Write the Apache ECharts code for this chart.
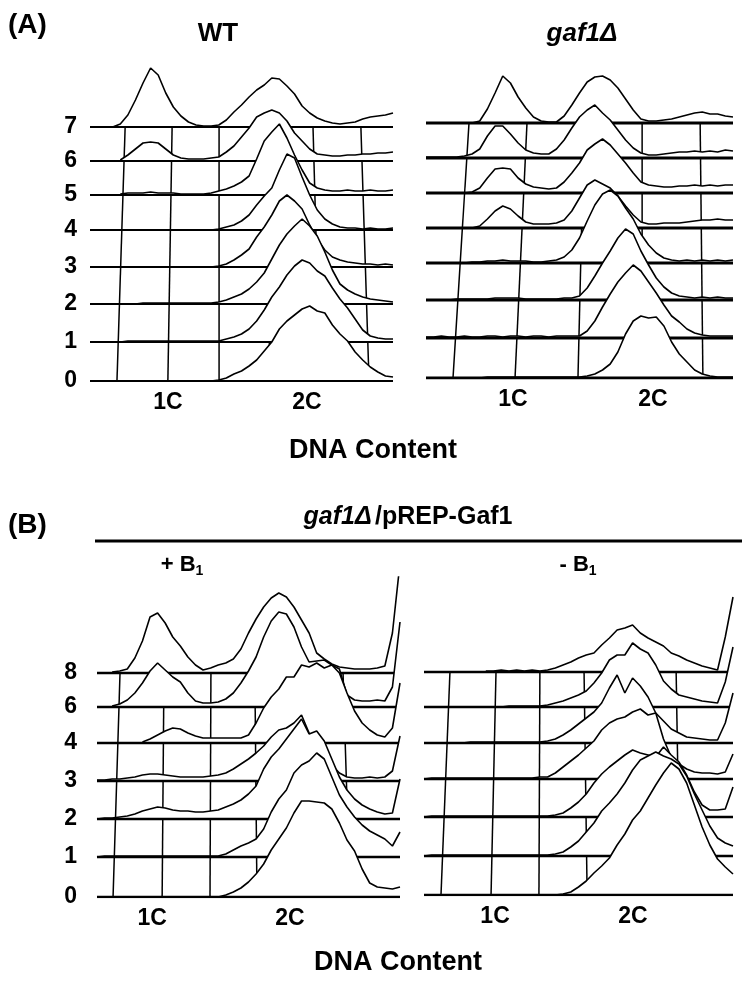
<!DOCTYPE html>
<html>
<head>
<meta charset="utf-8">
<script src="https://cdn.jsdelivr.net/npm/echarts@6/dist/echarts.min.js"></script>
<style>
  html, body { margin: 0; padding: 0; background: #fff; }
  #chart { width: 742px; height: 982px; }
</style>
</head>
<body>
<div id="chart"></div>
<script>
// DNA content channel, sampled every 2.5 units (0-100)
const channels = [];
for (let i = 0; i <= 40; i++) channels.push(i * 2.5);

// ---------- (A) WT : height of each histogram above its own baseline ----------
const wtLabels = ['0', '1', '2', '3', '4', '5', '6', '7'];
const wtBase = [0, 39, 77, 114, 151, 186, 220, 254];
const wt7 = [null, null, null, 0, 3, 12, 27, 44, 59, 52, 34, 20, 11, 5, 2, 1, 1, 2, 7, 15, 22, 30, 37, 42, 49, 48, 41, 33, 21, 14, 9, 6, 4, 3, 4, 5, 8, 10, 11, 12, 14];
const wt6 = [null, null, null, null, 1, 6, 12, 18, 19, 18, 12, 6, 3, 2, 2, 2, 3, 4, 9, 15, 24, 33, 44, 48, 51, 48, 40, 28, 20, 12, 7, 6, 5, 5, 6, 6, 7, 7, 8, 8, 9];
const wt5 = [null, null, null, null, 1, 2, 2, 2, 3, 2, 2, 2, 1, 1, 1, 1, 2, 4, 6, 9, 13, 19, 36, 54, 63, 71, 57, 40, 25, 12, 7, 5, 4, 4, 5, 4, 4, 5, 4, 4, 5];
const wt4 = [0, 0, 0, 0, 0, 0, 0, 0, 0, 0, 0, 0, 0, 0, 0, 0, 0, 1, 3, 5, 9, 15, 25, 34, 42, 60, 76, 72, 53, 35, 20, 11, 6, 3, 2, 2, 1, 2, 1, 1, 2];
const wt3 = [0, 0, 0, 0, 0, 0, 0, 0, 0, 0, 0, 0, 0, 0, 0, 0, 0, 1, 3, 7, 12, 18, 30, 40, 52, 66, 72, 66, 58, 42, 28, 17, 10, 7, 5, 4, 3, 3, 2, 3, 2];
const wt2 = [0, 0, 0, 0, 0, 0, 0, 1, 1, 1, 1, 1, 1, 1, 1, 1, 1, 2, 4, 7, 10, 15, 22, 31, 45, 59, 70, 78, 85, 78, 68, 52, 34, 20, 14, 10, 7, 5, 4, 3, 2];
const wt1 = [0, 0, 0, 0, 0, 1, 1, 1, 1, 1, 1, 1, 1, 1, 1, 1, 1, 1, 3, 5, 8, 13, 21, 32, 45, 55, 67, 76, 82, 79, 71, 66, 54, 43, 34, 23, 12, 6, 4, 3, 3];
const wt0 = [0, 0, 0, 0, 0, 0, 0, 0, 0, 0, 0, 0, 0, 0, 0, 0, 0, 1, 3, 7, 10, 15, 21, 30, 39, 52, 60, 66, 72, 75, 70, 68, 56, 47, 40, 29, 21, 14, 9, 5, 4];
const wtGridBottom = [8.9, 25.7, 42.6, 59.4, 75.9, 92.1];
const wtGridTop = [11.6, 27.1, 42.6, 58.1, 73.6, 89.4];
const wtTicks = [25.7, 71.6];

// ---------- (A) gaf1Δ ----------
const gafLabels = ['0', '1', '2', '3', '4', '5', '6', '7'];
const gafBase = [0, 40, 78, 115, 150, 185, 220, 255];
const gaf7 = [null, null, null, null, null, null, 0, 2, 14, 30, 47, 40, 26, 15, 6, 2, 1, 1, 7, 18, 30, 41, 46, 47, 43, 35, 24, 13, 4, 2, 2, 3, 4, 6, 8, 10, 11, 9, 9, 7, 6];
const gaf6 = [1, 1, 1, 1, 1, 2, 4, 9, 22, 32, 32, 24, 15, 8, 5, 4, 4, 9, 18, 30, 41, 48, 53, 45, 38, 28, 18, 10, 5, 3, 3, 4, 5, 6, 6, 7, 6, 7, 6, 8, 7];
const gaf5 = [null, null, null, null, null, 0, 1, 5, 15, 24, 25, 24, 15, 9, 6, 5, 4, 5, 11, 20, 30, 43, 49, 54, 48, 39, 30, 20, 11, 8, 7, 6, 6, 7, 7, 8, 7, 8, 7, 8, 8];
const gaf4 = [null, null, null, null, null, null, 0, 2, 9, 17, 22, 19, 12, 6, 4, 4, 4, 5, 8, 17, 30, 43, 48, 44, 40, 32, 22, 13, 6, 4, 4, 5, 5, 5, 6, 7, 8, 8, 9, 8, 8];
const gaf3 = [null, null, null, null, null, 0, 1, 1, 2, 2, 3, 2, 2, 2, 1, 1, 2, 3, 6, 13, 25, 42, 58, 69, 73, 67, 55, 44, 29, 18, 10, 5, 3, 2, 3, 2, 3, 2, 3, 2, 3];
const gaf2 = [null, null, null, 0, 1, 1, 1, 1, 1, 2, 2, 2, 2, 1, 1, 1, 1, 1, 2, 2, 4, 12, 24, 37, 49, 62, 71, 66, 49, 35, 22, 13, 7, 4, 3, 2, 3, 2, 3, 2, 2];
const gaf1 = [1, 1, 2, 1, 1, 2, 1, 1, 2, 2, 1, 2, 2, 1, 2, 2, 1, 2, 2, 2, 2, 7, 17, 31, 44, 56, 65, 73, 67, 56, 45, 33, 22, 16, 9, 5, 3, 2, 2, 2, 2];
const gaf0 = [0, 0, 0, 0, 0, 0, 0, 0, 1, 1, 1, 1, 1, 1, 1, 1, 1, 1, 1, 1, 1, 2, 4, 8, 14, 26, 44, 57, 62, 60, 61, 52, 36, 24, 16, 8, 4, 2, 1, 1, 1];
const gafGridBottom = [8.8, 29.0, 49.5, 70.4, 90.2];
const gafGridTop = [14.0, 32.9, 51.5, 70.4, 89.3];
const gafTicks = [28.3, 73.9];

// ---------- (B) gaf1Δ/pREP-Gaf1  + B1 ----------
const plusLabels = ['0', '1', '2', '3', '4', '6', '8'];
const plusBase = [0, 40, 78, 116, 154, 190, 224];
const plus8 = [null, null, 1, 2, 4, 15, 32, 56, 60, 50, 36, 27, 16, 8, 3, 5, 8, 10, 14, 24, 40, 54, 66, 75, 80, 76, 66, 53, 40, 20, 14, 9, 6, 5, 4, 4, 4, 5, 7, 40, 110];
const plus6 = [null, null, 1, 3, 7, 14, 24, 36, 44, 37, 30, 25, 14, 6, 4, 4, 5, 8, 14, 24, 36, 50, 70, 86, 95, 93, 80, 60, 45, 46, 47, 42, 38, 12, 7, 6, 6, 7, 6, 20, 85];
const plus4 = [null, null, null, null, null, null, 1, 4, 8, 12, 15, 14, 10, 7, 5, 5, 5, 5, 5, 5, 8, 20, 35, 46, 54, 66, 66, 78, 76, 80, 75, 78, 70, 50, 32, 20, 13, 8, 6, 15, 60];
const plus3 = [1, 1, 2, 2, 3, 4, 6, 7, 7, 6, 5, 4, 4, 4, 4, 5, 6, 8, 12, 17, 22, 28, 35, 44, 51, 53, 58, 66, 48, 30, 24, 16, 8, 4, 3, 3, 4, 3, 4, 10, 45];
const plus2 = [0, 1, 1, 2, 3, 5, 8, 10, 12, 11, 9, 8, 8, 7, 7, 8, 9, 12, 15, 19, 25, 33, 50, 62, 70, 80, 90, 100, 85, 88, 78, 60, 42, 29, 20, 14, 10, 7, 5, 6, 40];
const plus1 = [0, 1, 1, 1, 1, 1, 1, 1, 1, 1, 1, 1, 1, 1, 1, 1, 1, 3, 7, 11, 14, 18, 28, 45, 58, 67, 84, 92, 96, 104, 98, 80, 62, 50, 40, 32, 26, 22, 18, 11, 25];
const plus0 = [0, 0, 0, 0, 0, 0, 0, 0, 0, 0, 0, 0, 0, 0, 0, 0, 0, 2, 5, 9, 15, 23, 33, 47, 58, 69, 84, 96, 96, 95, 94, 88, 74, 57, 46, 28, 14, 10, 9, 8, 10];
const plusGridBottom = [5.3, 21.5, 37.3, 52.8, 68.0, 83.5];
const plusGridTop = [7.6, 22.1, 37.6, 52.1, 66.7, 81.2];
const plusTicks = [18.2, 63.7];

// ---------- (B) - B1 ----------
const minusLabels = ['0', '1', '2', '3', '4', '6', '8'];
const minusBase = [0, 39, 78, 116, 152, 188, 223];
const minus8 = [null, null, null, null, null, null, null, null, 1, 1, 2, 1, 2, 1, 2, 1, 2, 4, 7, 10, 14, 17, 19, 27, 34, 42, 44, 47, 39, 34, 30, 26, 19, 16, 12, 9, 6, 4, 2, 35, 75];
const minus6 = [null, null, null, null, null, null, null, null, null, null, 0, 1, 1, 1, 1, 1, 2, 4, 6, 9, 12, 16, 24, 34, 47, 52, 52, 64, 58, 54, 42, 26, 18, 12, 10, 8, 6, 5, 4, 25, 60];
const minus4 = [null, null, null, null, null, 0, 1, 1, 1, 1, 1, 1, 1, 1, 1, 1, 2, 4, 8, 13, 19, 25, 31, 40, 55, 68, 50, 65, 57, 46, 30, 22, 14, 10, 6, 5, 4, 3, 3, 20, 50];
const minus3 = [0, 1, 1, 1, 1, 1, 1, 1, 1, 1, 1, 1, 1, 1, 1, 2, 2, 6, 12, 18, 24, 31, 38, 49, 56, 60, 62, 67, 70, 64, 66, 40, 22, 15, 10, 7, 6, 6, 5, 7, 25];
const minus2 = [0, 1, 1, 1, 1, 1, 1, 1, 1, 1, 1, 1, 1, 1, 1, 1, 1, 2, 4, 9, 15, 23, 34, 43, 50, 56, 62, 67, 64, 62, 60, 70, 62, 55, 42, 25, 12, 7, 7, 8, 30];
const minus1 = [0, 1, 1, 1, 1, 1, 1, 1, 1, 1, 1, 1, 1, 1, 1, 1, 1, 2, 4, 9, 15, 24, 33, 45, 53, 62, 73, 86, 96, 100, 104, 100, 97, 92, 80, 62, 46, 30, 18, 13, 10];
const minus0 = [0, 0, 0, 0, 0, 0, 0, 0, 0, 0, 0, 0, 0, 0, 0, 0, 0, 0, 1, 3, 8, 14, 22, 29, 37, 50, 61, 75, 84, 97, 110, 122, 132, 126, 112, 90, 68, 50, 36, 28, 21];
const minusGridBottom = [5.5, 21.7, 37.2, 52.8, 67.6, 82.8];
const minusGridTop = [8.4, 23.3, 37.5, 51.8, 66.7, 81.6];
const minusTicks = [23.0, 67.6];

const tickLabels = ['1C', '2C'];

const FONT = '"Liberation Sans", Arial, sans-serif';

const panels = [
  { rect: { left: 90, top: 51, width: 303, height: 330 }, max: 330, labels: wtLabels, base: wtBase,
    rows: [wt0, wt1, wt2, wt3, wt4, wt5, wt6, wt7], gb: wtGridBottom, gt: wtGridTop, ticks: wtTicks,
    showY: true, yMargin: 13, baseWidth: 2 },
  { rect: { left: 426, top: 48, width: 307, height: 330 }, max: 330, labels: gafLabels, base: gafBase,
    rows: [gaf0, gaf1, gaf2, gaf3, gaf4, gaf5, gaf6, gaf7], gb: gafGridBottom, gt: gafGridTop, ticks: gafTicks,
    showY: false, yMargin: 13, baseWidth: 3 },
  { rect: { left: 97, top: 577, width: 303, height: 320 }, max: 320, labels: plusLabels, base: plusBase,
    rows: [plus0, plus1, plus2, plus3, plus4, plus6, plus8], gb: plusGridBottom, gt: plusGridTop, ticks: plusTicks,
    showY: true, yMargin: 20, baseWidth: 2.5 },
  { rect: { left: 424, top: 575, width: 309, height: 320 }, max: 320, labels: minusLabels, base: minusBase,
    rows: [minus0, minus1, minus2, minus3, minus4, minus6, minus8], gb: minusGridBottom, gt: minusGridTop, ticks: minusTicks,
    showY: false, yMargin: 13, baseWidth: 2.5 }
];

const grid = [], xAxis = [], yAxis = [], series = [];

panels.forEach((p, pi) => {
  grid.push(Object.assign({}, p.rect));
  xAxis.push({
    gridIndex: pi, type: 'value', min: 0, max: 100,
    axisLine: { show: false }, axisTick: { show: false }, splitLine: { show: false },
    axisLabel: {
      customValues: p.ticks,
      formatter: (v) => tickLabels[p.ticks.indexOf(v)] || '',
      margin: 10, color: '#000', fontSize: 23, fontWeight: 'bold', fontFamily: FONT
    }
  });
  yAxis.push({
    gridIndex: pi, type: 'value', min: 0, max: p.max,
    axisLine: { show: false }, axisTick: { show: false }, splitLine: { show: false },
    axisLabel: {
      show: p.showY,
      customValues: p.base,
      formatter: (v) => p.labels[p.base.indexOf(v)] || '',
      margin: p.yMargin, color: '#000', fontSize: 23, fontWeight: 'bold', fontFamily: FONT
    }
  });

  const n = p.rows.length;
  const topOff = p.base[n - 1];

  // perspective floor lines
  p.gb.forEach((xb, j) => {
    series.push({
      type: 'line', xAxisIndex: pi, yAxisIndex: pi, z: 1, silent: true,
      symbol: 'none', animation: false,
      lineStyle: { color: '#000', width: 1.5 },
      data: [[xb, 0], [p.gt[j], topOff]]
    });
  });

  // histograms, back (top) to front (bottom); white fill hides what is behind
  p.rows.forEach((h, i) => {
    const off = p.base[i];
    const rowZ = 10 + (n - i) * 3;
    const pts = [];
    h.forEach((v, k) => { if (v !== null) pts.push([channels[k], off + v]); });
    series.push({
      type: 'line', xAxisIndex: pi, yAxisIndex: pi, z: rowZ, silent: true,
      symbol: 'none', animation: false,
      lineStyle: { color: '#000', width: 1.6 },
      areaStyle: { color: '#fff', opacity: 1, origin: off },
      data: pts
    });
    series.push({
      type: 'line', xAxisIndex: pi, yAxisIndex: pi, z: rowZ + 1, silent: true,
      symbol: 'none', animation: false,
      lineStyle: { color: '#000', width: p.baseWidth },
      data: [[0, off], [100, off]]
    });
  });
});

const txt = (text, x, y, size, extra) => ({
  type: 'text', x, y, silent: true,
  style: Object.assign({
    text, fill: '#000', font: 'bold ' + size + 'px ' + FONT,
    align: 'center', verticalAlign: 'middle'
  }, extra || {})
});

const subRich = {
  b: { fontFamily: FONT, fontSize: 22, fontWeight: 'bold', lineHeight: 26 },
  s: { fontFamily: FONT, fontSize: 14, fontWeight: 'bold', verticalAlign: 'bottom', padding: [10, 0, 0, 0] }
};

const graphic = [
  txt('(A)', 8, 25, 28, { align: 'left' }),
  txt('WT', 218, 34, 26),
  txt('gaf1Δ', 582, 34, 26, { font: 'italic bold 26px ' + FONT }),
  txt('DNA Content', 373, 451, 27),
  txt('(B)', 8, 525, 28, { align: 'left' }),
  {
    type: 'text', x: 408, y: 517, silent: true,
    style: {
      text: '{i|gaf1Δ} {n|/pREP-Gaf1}', align: 'center', verticalAlign: 'middle', fill: '#000',
      rich: {
        i: { fontFamily: FONT, fontSize: 25, fontWeight: 'bold', fontStyle: 'italic' },
        n: { fontFamily: FONT, fontSize: 25, fontWeight: 'bold' }
      }
    }
  },
  {
    type: 'line', silent: true,
    shape: { x1: 95, y1: 541, x2: 742, y2: 541 },
    style: { stroke: '#000', lineWidth: 3 }
  },
  {
    type: 'text', x: 182, y: 565, silent: true,
    style: { text: '{b|+ B}{s|1}', align: 'center', verticalAlign: 'middle', fill: '#000', rich: subRich }
  },
  {
    type: 'text', x: 578, y: 565, silent: true,
    style: { text: '{b|- B}{s|1}', align: 'center', verticalAlign: 'middle', fill: '#000', rich: subRich }
  },
  txt('DNA Content', 398, 963, 27)
];

const chart = echarts.init(document.getElementById('chart'), null, { renderer: 'canvas' });
chart.setOption({
  animation: false,
  backgroundColor: '#fff',
  grid, xAxis, yAxis, series, graphic
});
</script>
</body>
</html>
